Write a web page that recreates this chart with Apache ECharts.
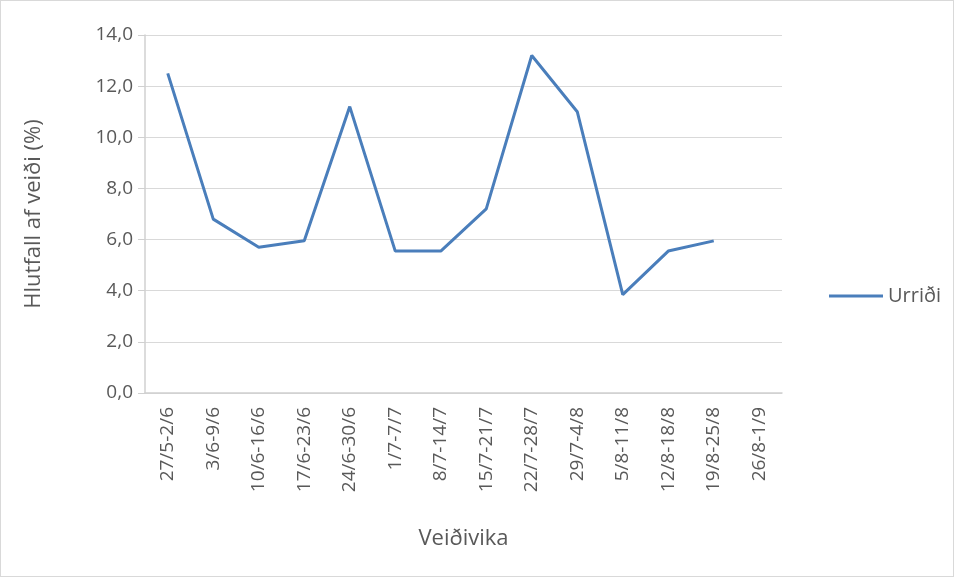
<!DOCTYPE html>
<html>
<head>
<meta charset="utf-8">
<script src="https://cdn.jsdelivr.net/npm/echarts@6/dist/echarts.min.js"></script>
<style>
  html, body { margin: 0; padding: 0; background: #fff; }
  #main { width: 954px; height: 577px; box-sizing: border-box; border: 1px solid #d9d9d9; }
</style>
</head>
<body>
<div id="main"></div>
<script>
  var weeks = ['27/5-2/6', '3/6-9/6', '10/6-16/6', '17/6-23/6', '24/6-30/6', '1/7-7/7', '8/7-14/7',
    '15/7-21/7', '22/7-28/7', '29/7-4/8', '5/8-11/8', '12/8-18/8', '19/8-25/8', '26/8-1/9'];
  var urridi = [12.5, 6.8, 5.7, 5.95, 11.2, 5.55, 5.55, 7.2, 13.2, 11.0, 3.85, 5.55, 5.95, null];
  var yTicks = { min: 0, max: 14, interval: 2 };

  var textColor = '#595959';
  var font = 'Open Sans';

  var chart = echarts.init(document.getElementById('main'));
  var option = {
    animation: false,
    textStyle: { fontFamily: font },
    grid: { left: 144, right: 171, top: 34, bottom: 183, containLabel: false },
    legend: {
      left: 823,
      top: 280,
      orient: 'vertical',
      itemWidth: 54,
      itemHeight: 3,
      itemGap: 8,
      icon: 'rect',
      textStyle: { color: textColor, fontSize: 20, fontFamily: font },
      data: ['Urriði']
    },
    xAxis: {
      type: 'category',
      data: weeks,
      boundaryGap: true,
      name: 'Veiðivika',
      nameLocation: 'middle',
      nameGap: 135,
      nameTextStyle: { color: textColor, fontSize: 22, fontFamily: font },
      axisLine: { lineStyle: { color: '#d0d0d0', width: 1.5 } },
      axisTick: { show: false },
      axisLabel: { rotate: 90, color: textColor, fontSize: 19, margin: 14, interval: 0, fontFamily: font }
    },
    yAxis: {
      type: 'value',
      min: yTicks.min,
      max: yTicks.max,
      interval: yTicks.interval,
      name: 'Hlutfall af veiði (%)',
      nameLocation: 'middle',
      nameGap: 100,
      nameTextStyle: { color: textColor, fontSize: 22, fontFamily: font },
      axisLine: { show: true, lineStyle: { color: '#d0d0d0', width: 1.5 } },
      axisTick: { show: true, length: 7, lineStyle: { color: '#d0d0d0' } },
      splitLine: { lineStyle: { color: '#d9d9d9', width: 1.2 } },
      axisLabel: {
        color: textColor,
        fontSize: 19,
        margin: 12,
        fontFamily: font,
        formatter: function (v) { return v.toFixed(1).replace('.', ','); }
      }
    },
    series: [{
      name: 'Urriði',
      type: 'line',
      data: urridi,
      symbol: 'none',
      connectNulls: false,
      lineStyle: { color: '#4a7ebb', width: 3 },
      itemStyle: { color: '#4a7ebb' }
    }]
  };
  chart.setOption(option);
</script>
</body>
</html>
